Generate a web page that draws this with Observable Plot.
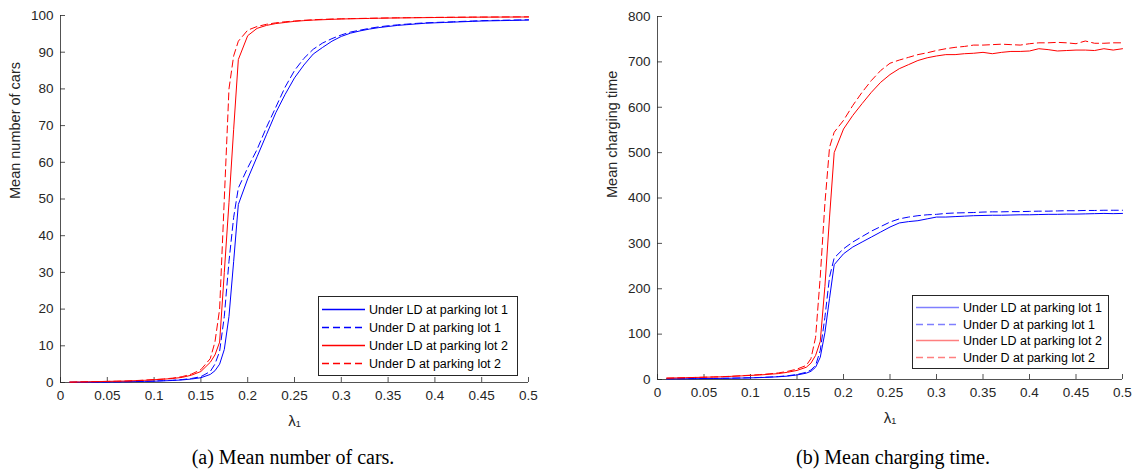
<!DOCTYPE html>
<html><head><meta charset="utf-8">
<script src="https://cdn.jsdelivr.net/npm/d3@7"></script>
<script src="https://cdn.jsdelivr.net/npm/@observablehq/plot@0.6"></script>
<style>
html,body{margin:0;padding:0;background:#fff;}
#root{position:relative;width:1135px;height:475px;overflow:hidden;background:#fff;font-family:"Liberation Sans",Arial,sans-serif;}
.panel{position:absolute;top:0;}
.legend{position:absolute;}
.caption{position:absolute;width:400px;text-align:center;font-family:"Liberation Serif","Times New Roman",serif;font-size:20px;color:#000;line-height:24px;}
</style></head><body>
<div id="root"></div>
<script>
// lambda_1 grid
const lambda = [0.01,0.02,0.03,0.04,0.05,0.06,0.07,0.08,0.09,0.10,0.11,0.12,0.13,0.14,0.15,
  0.16,0.165,0.17,0.175,0.18,0.185,0.19,
  0.20,0.21,0.22,0.23,0.24,0.25,0.26,0.27,0.28,0.29,0.30,0.31,0.32,0.33,0.34,0.35,0.36,0.37,0.38,0.39,0.40,0.41,0.42,0.43,0.44,0.45,0.46,0.47,0.48,0.49,0.50];

// (a) Mean number of cars
const carsLD1 = [0.05,0.08,0.1,0.12,0.15,0.18,0.2,0.25,0.3,0.35,0.45,0.55,0.7,0.95,1.3,
  2.2,3.2,5,9,18,33,48.5,
  55.5,61.5,67.5,73.5,78.5,83,86.5,89.5,91.3,93,94.3,95.2,95.8,96.3,96.7,97,97.3,97.5,97.7,97.9,98,98.1,98.2,98.3,98.4,98.5,98.55,98.6,98.65,98.7,98.75];
const carsD1 = [0.05,0.08,0.1,0.12,0.15,0.18,0.22,0.27,0.32,0.4,0.5,0.62,0.8,1.1,1.6,
  3,5,8.5,18,33,45,53,
  58.5,63.5,69.5,75,80.5,85,88.3,90.8,92.5,93.7,94.7,95.5,96,96.5,96.9,97.2,97.45,97.65,97.85,98,98.1,98.2,98.3,98.4,98.5,98.6,98.65,98.7,98.75,98.8,98.85];
const carsLD2 = [0.1,0.15,0.2,0.25,0.3,0.35,0.4,0.5,0.6,0.75,0.9,1.1,1.4,2,3,
  5.5,7.5,11,30,49,69,88,
  94.5,96.5,97.3,97.8,98.1,98.4,98.6,98.75,98.85,98.95,99.05,99.1,99.15,99.2,99.25,99.3,99.33,99.36,99.39,99.42,99.45,99.47,99.49,99.51,99.53,99.55,99.56,99.57,99.58,99.59,99.6];
const carsD2 = [0.1,0.15,0.2,0.25,0.3,0.35,0.42,0.52,0.65,0.8,0.95,1.2,1.6,2.3,3.5,
  6.5,11,20,50,80,89,93,
  96,97,97.6,98,98.3,98.5,98.7,98.85,98.95,99.05,99.1,99.15,99.2,99.25,99.3,99.34,99.37,99.4,99.43,99.46,99.49,99.51,99.53,99.55,99.57,99.58,99.59,99.6,99.61,99.62,99.63];

// (b) Mean charging time
const timeLD1 = [1.5,1.6,1.7,1.8,2,2.2,2.5,2.8,3.2,3.6,4.2,5,6,7.5,10,
  14,18,27,49,103,179,253,
  277,292,303,314,325,336,345,348,350,354,358,358,359,360,361,361.5,362,362,362.5,363,363,363.5,364,364,364.5,364.5,365,365.5,366,365.5,366];
const timeD1 = [1.6,1.7,1.8,2,2.2,2.4,2.7,3,3.4,3.9,4.5,5.4,6.5,8.3,11,
  16,21,31,64,137,226,268,
  288,303,315,327,337,347,354,358,361,363,364,366,367,367.5,368,369,369.5,369.5,370,370,370.5,371,371,371.5,372,372,372.5,372.5,373,373,373];
const timeLD2 = [3,3.5,4,4.5,5,5.5,6,7,8,9,10,11.5,13,16,20,
  27,36,53,84,205,358,500,
  552,582,608,633,655,672,685,694,703,709,713,716,716,718,719,721,718,721,723,723,724,729,727,724,725,726,726,725,729,726,729];
const timeD2 = [3,3.5,4,4.5,5,5.6,6.3,7.2,8.3,9.5,10.8,12.5,14.5,18,23,
  31,46,93,226,388,512,545,
  571,604,633,659,681,697,704,710,716,720,725,729,732,734,737,737,738,739,738,737,740,742,742,743,742,740,746,741,741,742,742];

const seriesNames = ["Under LD at parking lot 1","Under D at parking lot 1","Under LD at parking lot 2","Under D at parking lot 2"];
const seriesColors = ["#0000ff","#0000ff","#ff0000","#ff0000"];
const seriesDash = [null,"7,4",null,"7,4"];

const xTicks = [0,0.05,0.1,0.15,0.2,0.25,0.3,0.35,0.4,0.45,0.5];
const carsTicks = [0,10,20,30,40,50,60,70,80,90,100];
const timeTicks = [0,100,200,300,400,500,600,700,800];
const xLabel = "λ₁";
const captions = ["(a) Mean number of cars.","(b) Mean charging time."];
const yLabels = ["Mean number of cars","Mean charging time"];

function rows(ys){ return lambda.map((x,i)=>({x, y: ys[i]})); }
const fmt = d3.format("~g");
const TICK = 5;

function makePanel(opts){
  const {ys, yDomain, yTicks, yLabel, width, height, ml, mr, mt, mb} = opts;
  const fw = width - ml - mr, fh = height - mt - mb;
  const marks = [
    Plot.ruleY([yDomain[0]], {stroke:"#262626", strokeWidth:0.8}),
    Plot.ruleX([0], {stroke:"#262626", strokeWidth:0.8}),
    // inward tick marks (MATLAB style)
    Plot.tickX(xTicks, {x: d => d, insetTop: fh - TICK, stroke:"#262626", strokeWidth:0.8}),
    Plot.tickY(yTicks, {y: d => d, insetRight: fw - TICK, stroke:"#262626", strokeWidth:0.8}),
    Plot.axisX({ticks: xTicks, tickFormat: fmt, tickSize: 0, tickPadding: 8, label: null}),
    Plot.axisY({ticks: yTicks, tickFormat: fmt, tickSize: 0, tickPadding: 7, label: null}),
    Plot.text([xLabel], {frameAnchor: "bottom", dy: 43, fontSize: 15, fill: "#262626"}),
    Plot.text([yLabel], {frameAnchor: "left", dx: -45, rotate: -90, fontSize: 14.5, fill: "#262626"})
  ];
  ys.forEach((arr,k)=>{
    marks.push(Plot.line(rows(arr), {x:"x", y:"y", stroke: seriesColors[k], strokeWidth: 1,
      strokeDasharray: seriesDash[k] || undefined}));
  });
  return Plot.plot({
    width, height, marginLeft: ml, marginRight: mr, marginTop: mt, marginBottom: mb,
    x: {domain:[0,0.5]}, y: {domain: yDomain},
    style: {fontSize:"13.5px", fontFamily:"'Liberation Sans', Arial, sans-serif", color:"#262626", background:"transparent", overflow:"visible"},
    marks
  });
}

const root = document.getElementById("root");
const NS = "http://www.w3.org/2000/svg";

function addPanel(left, plot){
  const d = document.createElement("div"); d.className="panel"; d.style.left = left+"px";
  d.appendChild(plot); root.appendChild(d);
}
function el(name, attrs, parent){
  const e = document.createElementNS(NS, name);
  for (const k in attrs) e.setAttribute(k, attrs[k]);
  parent.appendChild(e); return e;
}
function addLegend(left, top, w, h, alpha){
  const svg = document.createElementNS(NS, "svg");
  svg.setAttribute("width", w); svg.setAttribute("height", h);
  svg.setAttribute("class","legend");
  svg.style.left = left+"px"; svg.style.top = top+"px";
  el("rect", {x:0.5, y:0.5, width:w-1, height:h-1, fill:"#fff", stroke:"#262626", "stroke-width":1}, svg);
  const step = (h-8)/4;
  seriesNames.forEach((name,k)=>{
    const cy = Math.round(4 + step*(k+0.5)) + 0.5;
    const a = {x1:4, x2:47, y1:cy, y2:cy, stroke:seriesColors[k], "stroke-opacity":alpha, "stroke-width":1.3};
    if (seriesDash[k]) a["stroke-dasharray"] = seriesDash[k];
    el("line", a, svg);
    const t = el("text", {x:51, y:cy, dy:"0.35em", fill:"#000", "font-size":"12.5px", "font-family":"'Liberation Sans', Arial, sans-serif"}, svg);
    t.textContent = name;
  });
  root.appendChild(svg);
}
function addCaption(cx, cy, text){
  const c = document.createElement("div"); c.className="caption"; c.textContent = text;
  c.style.left = (cx-200)+"px"; c.style.top = (cy-12)+"px"; root.appendChild(c);
}

addPanel(0, makePanel({ys:[carsLD1,carsD1,carsLD2,carsD2], yDomain:[0,100], yTicks: carsTicks, yLabel: yLabels[0],
  width:560, height:440, ml:60, mr:32, mt:15, mb:58}));
addPanel(580, makePanel({ys:[timeLD1,timeD1,timeLD2,timeD2], yDomain:[0,800], yTicks: timeTicks, yLabel: yLabels[1],
  width:555, height:440, ml:77, mr:13, mt:16, mb:61}));
addLegend(318, 296, 200, 80, 1);
addLegend(912, 295, 197, 74, 0.5);
addCaption(293, 457, captions[0]);
addCaption(893, 457, captions[1]);
</script>
</body></html>
